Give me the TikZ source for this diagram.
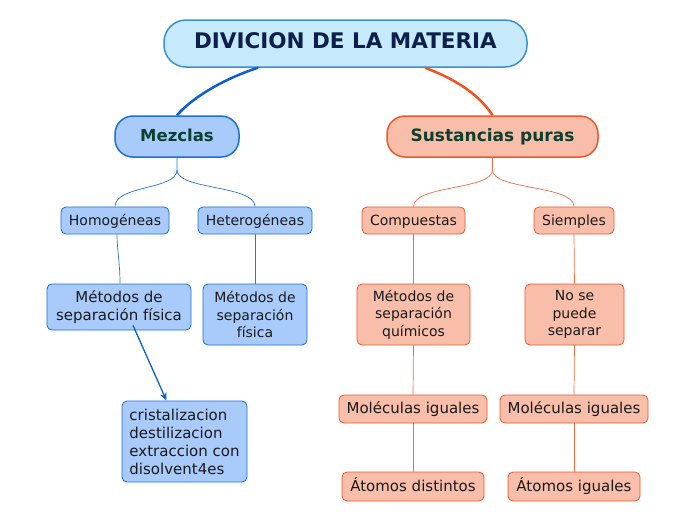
\documentclass[tikz,border=0pt]{standalone}
\usepackage{fontspec}
\setmainfont{DejaVu Sans}
\usetikzlibrary{arrows.meta}
\definecolor{bluefill}{HTML}{A8CBFC}
\definecolor{bluedraw}{HTML}{1A6FD8}
\definecolor{blueline}{HTML}{0A5FD6}
\definecolor{bluethin}{HTML}{2A74DA}
\definecolor{rootfill}{HTML}{C6EAFB}
\definecolor{rootdraw}{HTML}{3A90D0}
\definecolor{orfill}{HTML}{F8BEAA}
\definecolor{ordraw}{HTML}{F0572C}
\definecolor{orline}{HTML}{F4511E}
\definecolor{orthin}{HTML}{F26A40}
\definecolor{darkgreen}{HTML}{0D3F2E}
\definecolor{navy}{HTML}{0D1F4C}
\definecolor{txt}{HTML}{1A1A1A}
\tikzset{
  box/.style={rounded corners=5pt, inner sep=0pt, align=center, text=txt, line width=0.8pt},
  bbox/.style={box, fill=bluefill, draw=bluedraw},
  obox/.style={box, fill=orfill, draw=ordraw},
  one/.style={text height=0.9em, text depth=0pt},
  bigb/.style={one, rounded corners=18pt, inner sep=0pt, line width=1.5pt, text=darkgreen},
  small/.style={one, font=\fontsize{14}{17}\selectfont},
  mid/.style={font=\fontsize{14}{17.5}\selectfont},
  big/.style={font=\fontsize{15}{18}\selectfont},
  bl/.style={draw=bluethin, line width=0.7pt},
  ol/.style={draw=orthin, line width=0.7pt},
}
\begin{document}
\begin{tikzpicture}[x=1pt,y=-1pt]
\useasboundingbox (0,0) rectangle (696,520);
\node[one, rounded corners=22pt, fill=rootfill, draw=rootdraw, line width=1.5pt, minimum width=363pt, minimum height=47pt, inner sep=0pt, font=\fontsize{21.5}{25}\selectfont\bfseries, text=navy] (root) at (345.5,43.5) {DIVICION DE LA MATERIA};
\node[bigb, fill=bluefill, draw=bluedraw, minimum width=124pt, minimum height=41pt, font=\fontsize{16.5}{19}\selectfont\bfseries] (mez) at (177,136.5) {Mezclas};
\node[bigb, fill=orfill, draw=ordraw, minimum width=211pt, minimum height=41pt, font=\fontsize{17}{20}\selectfont\bfseries] (sus) at (492.5,136.5) {Sustancias puras};

\node[bbox, small, minimum width=108pt, minimum height=27pt] (hom) at (115,220.5) {Homogéneas};
\node[bbox, small, minimum width=114pt, minimum height=27pt] (het) at (255,220.5) {Heterogéneas};
\node[obox, small, minimum width=103pt, minimum height=27pt] (com) at (413.5,220.5) {Compuestas};
\node[obox, small, minimum width=80pt, minimum height=27pt] (sie) at (574,220.5) {Siemples};

\node[bbox, big, minimum width=144pt, minimum height=46pt] (mfl) at (119,307) {Métodos de\\separación física};
\node[bbox, mid, minimum width=104pt, minimum height=61pt] (mfr) at (255,314.5) {Métodos de\\separación\\física};
\node[obox, mid, minimum width=113pt, minimum height=61pt] (mq) at (413.5,314.5) {Métodos de\\separación\\químicos};
\node[obox, mid, minimum width=99pt, minimum height=61pt] (nse) at (574.5,314.5) {No se\\puede\\separar};

\node[obox, big, one, minimum width=148pt, minimum height=28pt] (mol1) at (413,409) {Moléculas iguales};
\node[obox, big, one, minimum width=148pt, minimum height=28pt] (mol2) at (574,409) {Moléculas iguales};
\node[obox, big, one, minimum width=142pt, minimum height=29pt] (at1) at (413,486.5) {Átomos distintos};
\node[obox, big, one, minimum width=132pt, minimum height=29pt] (at2) at (574,486.5) {Átomos iguales};

\node[bbox, big, align=left, minimum width=125pt, minimum height=81pt] (cri) at (184.5,441.5) {cristalizacion\\destilizacion\\extraccion con\\disolvent4es};

% main curves
\draw[draw=blueline, line width=2.5pt] ([xshift=-87.5pt]root.south) .. controls (220,80) and (190,100) .. (mez.north);
\draw[draw=orline, line width=2.5pt] ([xshift=79.5pt]root.south) .. controls (458,80) and (480,96) .. (sus.north);

% branches
\coordinate (mj) at (177,170);
\draw[bl] (mez.south) -- (mj) .. controls (177,190) and (115,185) .. (hom.north);
\draw[bl] (mj) .. controls (177,190) and (255,185) .. (het.north);
\coordinate (sj) at (492.5,170);
\draw[ol] (sus.south) -- (sj) .. controls (492.5,190) and (413.5,185) .. (com.north);
\draw[ol] (sj) .. controls (492.5,190) and (574,185) .. (sie.north);

\draw[bl] ([xshift=2pt]hom.south) .. controls (117,250) and (120,262) .. ([xshift=1pt]mfl.north);
\draw[bl] (het.south) -- (mfr.north);
\draw[draw=blueline, line width=1.3pt, -{Stealth[length=8pt,width=7pt]}] ([xshift=14pt,yshift=5pt]mfl.south) -- ([xshift=-18pt]cri.north);

\draw[ol] (com.south) -- (mq.north);
\draw[ol] (mq.south) -- (mol1.north);
\draw[ol] (mol1.south) -- (at1.north);
\draw[ol] (sie.south) -- (nse.north);
\draw[ol] (nse.south) -- (mol2.north);
\draw[ol] (mol2.south) -- (at2.north);
\end{tikzpicture}
\end{document}
